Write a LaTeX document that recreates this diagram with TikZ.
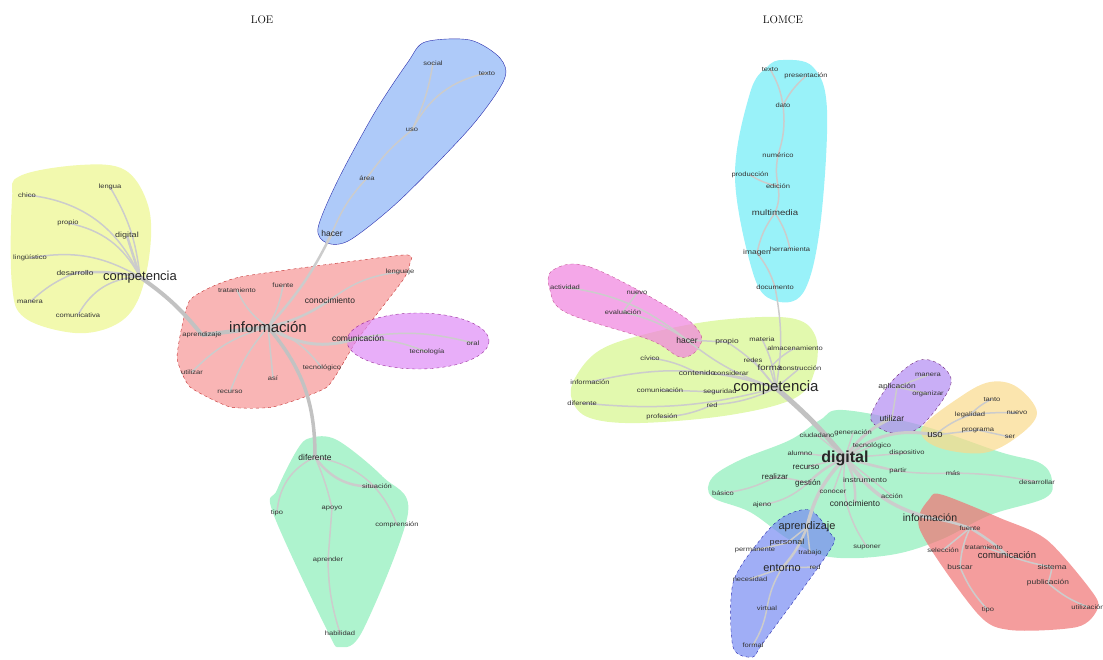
\documentclass[tikz,border=0pt]{standalone}
\usepackage{fontspec}
\setsansfont{Liberation Sans}
\pgfdeclarelayer{hulls}
\pgfdeclarelayer{links}
\pgfsetlayers{hulls,links,main}

\tikzset{
  w/.style={font=\sffamily\fontsize{6.3}{7}\selectfont,inner sep=0pt,text=black!80,xscale=1.2},
  wm/.style={font=\sffamily\fontsize{8.5}{9}\selectfont,inner sep=0pt,text=black!85},
  wl/.style={font=\sffamily\fontsize{10.5}{11}\selectfont,inner sep=0pt,text=black!85},
  wb/.style={font=\sffamily\fontsize{14}{15}\selectfont,inner sep=0pt,text=black!85},
  lk/.style={draw=black!20,line width=1.5pt},
  lkk/.style={draw=black!24,line width=4pt},
  hull/.style={fill opacity=\op,draw opacity=.8},
  title/.style={font=\fontsize{11}{12}\selectfont,inner sep=0pt}
}

\begin{document}
\begin{tikzpicture}[x=1pt,y=-1pt]

\def\op{.7}
\useasboundingbox (0,0) rectangle (1103,659);

\definecolor{yel}{RGB}{236,247,140}
\definecolor{rosa}{RGB}{246,150,150}
\definecolor{lila}{RGB}{222,140,246}
\definecolor{azul}{RGB}{140,180,246}
\definecolor{menta}{RGB}{140,238,185}
\definecolor{cian}{RGB}{110,236,246}
\definecolor{fucsia}{RGB}{240,130,222}
\definecolor{lima}{RGB}{214,246,140}
\definecolor{violeta}{RGB}{178,140,242}
\definecolor{naranja}{RGB}{250,218,140}
\definecolor{rojo}{RGB}{240,116,116}
\definecolor{indigo}{RGB}{120,140,242}

\node[title] (loe) at (262,20) {LOE};
\node[title] (lomce) at (783,20) {LOMCE};

%% hulls, left
\begin{pgfonlayer}{hulls}
\fill[hull,yel] plot[smooth cycle,tension=.6] coordinates {(20,176) (80,165) (125,170) (148,205) (150,250) (138,300) (115,325) (75,333) (25,318) (12,285) (12,200)};
\filldraw[hull,rosa,draw=red!70!black,dashed] plot[smooth cycle,tension=.3] coordinates {(190,300) (240,277) (403,255) (410,263) (403,280) (357,340) (327,387) (273,407) (230,407) (190,387) (177,357)};
\filldraw[hull,lila,draw=violet,dashed] (418,341) ellipse[x radius=71,y radius=28];
\filldraw[hull,azul,draw=blue!60!black] plot[smooth cycle,tension=.5] coordinates {(425,42) (470,40) (500,58) (504,80) (470,128) (400,200) (350,240) (327,243) (318,228) (338,180) (375,112) (408,62)};
\fill[hull,menta] plot[smooth cycle,tension=.55] coordinates {(310,438) (337,440) (383,477) (408,513) (363,630) (340,647) (327,630) (273,513) (277,490) (297,450)};

%% hulls, right
\fill[hull,cian] plot[smooth cycle,tension=.6] coordinates {(783,60) (813,67) (827,110) (820,227) (803,293) (773,300) (753,273) (735,177) (750,93) (767,67)};
\fill[hull,lima] plot[smooth cycle,tension=.6] coordinates {(575,378) (600,350) (650,333) (720,320) (790,318) (815,335) (815,370) (795,398) (730,415) (640,423) (590,418) (572,400)};
\filldraw[hull,fucsia,draw=magenta!70!black,dashed] plot[smooth cycle,tension=.6] coordinates {(553,270) (590,267) (673,310) (700,333) (697,350) (680,357) (650,340) (567,313) (550,290)};
\fill[hull,menta] plot[smooth cycle,tension=.6] coordinates {(843,410) (920,425) (1000,452) (1040,463) (1052,480) (1045,498) (990,515) (940,540) (890,555) (830,557) (790,540) (750,512) (712,497) (712,478) (740,460) (790,440) (820,420)};
\filldraw[hull,violeta,draw=violet!70!black,dashed] plot[smooth cycle,tension=.6] coordinates {(920,360) (943,367) (950,387) (920,427) (893,433) (873,423) (873,410) (893,380)};
\fill[hull,naranja] plot[smooth cycle,tension=.6] coordinates {(922,428) (960,397) (990,382) (1017,387) (1037,413) (1017,437) (983,453) (937,447)};
\fill[hull,rojo] plot[smooth cycle,tension=.5] coordinates {(930,498) (943,495) (1000,518) (1047,540) (1093,593) (1097,610) (1077,627) (1010,630) (977,613) (920,530)};
\filldraw[hull,indigo,draw=blue!60!black,dashed] plot[smooth cycle,tension=.5] coordinates {(810,510) (830,533) (830,550) (763,643) (753,657) (733,647) (733,583) (760,540) (783,517)};
\end{pgfonlayer}

%% words, left
\node[w] (chico) at (27,195) {chico};
\node[w] (lengua) at (110,187) {lengua};
\node[w] (propioL) at (68,223) {propio};
\node[w,font=\sffamily\fontsize{7.5}{8}\selectfont] (digitalL) at (127,236) {digital};
\node[w] (lingL) at (30,258) {lingüístico};
\node[w,font=\sffamily\fontsize{7}{8}\selectfont] (desarrollo) at (75,273) {desarrollo};
\node[wb,font=\sffamily\fontsize{13}{14}\selectfont] (compL) at (140,277) {competencia};
\node[w] (manera) at (30,302) {manera};
\node[w] (comunicativa) at (78,315) {comunicativa};

\node[w] (tratL) at (237,290) {tratamiento};
\node[w] (fuenteL) at (283,285) {fuente};
\node[wm] (conocL) at (330,300) {conocimiento};
\node[w] (lenguaje) at (400,272) {lenguaje};
\node[wb,font=\sffamily\fontsize{15}{16}\selectfont] (infoL) at (268,327) {información};
\node[w] (aprendL) at (202,335) {aprendizaje};
\node[wm] (comuL) at (358,338) {comunicación};
\node[w] (utilizarL) at (192,372) {utilizar};
\node[w] (recursoL) at (230,392) {recurso};
\node[w] (asi) at (273,378) {así};
\node[w] (tecnoL) at (322,368) {tecnológico};
\node[w] (tecnoP) at (427,352) {tecnología};
\node[w] (oral) at (473,343) {oral};

\node[w] (social) at (433,63) {social};
\node[w] (textoL) at (487,73) {texto};
\node[w] (usoL) at (412,130) {uso};
\node[w] (area) at (367,178) {área};
\node[wm] (hacerL) at (332,233) {hacer};

\node[wm] (diferente) at (315,457) {diferente};
\node[w] (situacion) at (377,486) {situación};
\node[w] (tipoL) at (277,513) {tipo};
\node[w] (apoyo) at (332,508) {apoyo};
\node[w] (comprension) at (397,525) {comprensión};
\node[w] (aprender) at (328,560) {aprender};
\node[w] (habilidad) at (340,633) {habilidad};

%% words, right
\node[w] (textoR) at (770,69) {texto};
\node[w] (presentacion) at (806,76) {presentación};
\node[w] (dato) at (783,105) {dato};
\node[w] (numerico) at (778,155) {numérico};
\node[w] (produccion) at (750,175) {producción};
\node[w] (edicion) at (778,186) {edición};
\node[w,font=\sffamily\fontsize{8}{9}\selectfont] (multimedia) at (775,213) {multimedia};
\node[w,font=\sffamily\fontsize{7}{8}\selectfont] (imagen) at (757,253) {imagen};
\node[w] (herramienta) at (790,249) {herramienta};
\node[w] (documento) at (775,287) {documento};

\node[w] (actividad) at (565,287) {actividad};
\node[w] (nuevoA) at (637,293) {nuevo};
\node[w] (evaluacion) at (623,312) {evaluación};
\node[wm] (hacerR) at (687,340) {hacer};

\node[w,font=\sffamily\fontsize{7}{8}\selectfont] (propioR) at (727,342) {propio};
\node[w] (materia) at (762,339) {materia};
\node[w] (almacen) at (795,348) {almacenamiento};
\node[w] (civico) at (650,358) {cívico};
\node[w] (redes) at (753,360) {redes};
\node[w,font=\sffamily\fontsize{8}{9}\selectfont] (forma) at (770,368) {forma};
\node[w] (construccion) at (800,368) {construcción};
\node[w,font=\sffamily\fontsize{7}{8}\selectfont] (contenido) at (697,373) {contenido};
\node[w] (considerar) at (731,373) {considerar};
\node[w] (infoY) at (590,382) {información};
\node[w] (diferenteR) at (582,403) {diferente};
\node[w] (comuY) at (660,390) {comunicación};
\node[w] (seguridad) at (720,392) {seguridad};
\node[wb,font=\sffamily\fontsize{15}{16}\selectfont] (compR) at (776,388) {competencia};
\node[w] (red) at (712,405) {red};
\node[w] (profesion) at (662,417) {profesión};

\node[w] (maneraR) at (928,375) {manera};
\node[w,font=\sffamily\fontsize{7}{8}\selectfont] (aplicacion) at (897,387) {aplicación};
\node[w] (organizar) at (928,394) {organizar};
\node[wm] (utilizarR) at (892,418) {utilizar};

\node[w] (tanto) at (992,399) {tanto};
\node[w] (nuevoB) at (1017,413) {nuevo};
\node[w] (legalidad) at (970,415) {legalidad};
\node[w] (programa) at (978,430) {programa};
\node[wm,font=\sffamily\fontsize{9.5}{10}\selectfont] (usoR) at (935,435) {uso};
\node[w] (ser) at (1010,437) {ser};

\node[w] (ciudadano) at (817,435) {ciudadano};
\node[w] (generacion) at (853,433) {generación};
\node[w] (alumno) at (800,453) {alumno};
\node[wb,font=\sffamily\bfseries\fontsize{16}{17}\selectfont] (digitalR) at (845,458) {digital};
\node[w] (tecnologico) at (872,446) {tecnológico};
\node[w] (dispositivo) at (907,453) {dispositivo};
\node[wm,font=\sffamily\fontsize{8}{9}\selectfont] (recursoR) at (806,467) {recurso};
\node[wm,font=\sffamily\fontsize{8}{9}\selectfont] (realizar) at (775,477) {realizar};
\node[wm,font=\sffamily\fontsize{8}{9}\selectfont] (gestion) at (808,483) {gestión};
\node[w,font=\sffamily\fontsize{7}{8}\selectfont] (instrumento) at (865,480) {instrumento};
\node[w] (partir) at (898,471) {partir};
\node[w] (conocer) at (833,492) {conocer};
\node[wm] (conocR) at (855,503) {conocimiento};
\node[w] (accion) at (892,496) {acción};
\node[w] (basico) at (723,493) {básico};
\node[w] (ajeno) at (762,505) {ajeno};
\node[w] (mas) at (953,473) {más};
\node[w] (desarrollar) at (1037,482) {desarrollar};
\node[wl] (infoR) at (930,518) {información};
\node[w] (suponer) at (867,547) {suponer};

\node[w] (fuenteR) at (970,528) {fuente};
\node[w] (seleccion) at (943,550) {selección};
\node[w] (tratR) at (984,547) {tratamiento};
\node[wm,font=\sffamily\fontsize{9.5}{10}\selectfont] (comuR) at (1007,555) {comunicación};
\node[w,font=\sffamily\fontsize{7}{8}\selectfont] (buscar) at (960,567) {buscar};
\node[w,font=\sffamily\fontsize{7}{8}\selectfont] (sistema) at (1052,567) {sistema};
\node[w,font=\sffamily\fontsize{7}{8}\selectfont] (publicacion) at (1048,583) {publicación};
\node[w] (tipoR) at (988,610) {tipo};
\node[w] (utilizacion) at (1088,607) {utilización};

\node[wl,font=\sffamily\fontsize{11}{12}\selectfont] (aprendR) at (807,527) {aprendizaje};
\node[w,font=\sffamily\fontsize{7.5}{8}\selectfont] (personal) at (787,543) {personal};
\node[w] (permanente) at (755,550) {permanente};
\node[w] (trabajo) at (810,553) {trabajo};
\node[wl,font=\sffamily\fontsize{11}{12}\selectfont] (entorno) at (782,568) {entorno};
\node[w] (redB) at (815,567) {red};
\node[w] (necesidad) at (750,579) {necesidad};
\node[w] (virtual) at (767,608) {virtual};
\node[w] (formal) at (753,645) {formal};

%% links
\begin{pgfonlayer}{links}
\draw[lk] (compL.center) to[bend right=30] (chico.center);
\draw[lk] (compL.center) to[bend right=12] (lengua.center);
\draw[lk] (compL.center) to[bend right=25] (propioL.center);
\draw[lk,line width=2.5pt] (compL.center) -- (digitalL.center);
\draw[lk] (compL.center) to[bend right=20] (lingL.center);
\draw[lk,line width=2.5pt] (compL.center) to[bend right=8] (desarrollo.center);
\draw[lk] (desarrollo.center) to[bend right=10] (manera.center);
\draw[lk] (compL.center) to[bend right=30] (comunicativa.center);
\draw[lkk] (compL.center) to[bend left=8] (aprendL.center);
\draw[lkk] (aprendL.center) -- (infoL.center);

\draw[lk] (infoL.center) to[bend left=15] (tratL.center);
\draw[lk] (infoL.center) to[bend right=10] (fuenteL.center);
\draw[lk,line width=2.5pt] (infoL.center) to[bend right=10] (conocL.center);
\draw[lk] (conocL.center) to[bend left=15] (lenguaje.center);
\draw[lk,line width=3pt] (infoL.center) to[bend right=25] (comuL.center);
\draw[lk] (comuL.center) to[bend left=10] (tecnoP.center);
\draw[lk] (comuL.center) to[bend left=12] (oral.center);
\draw[lk] (infoL.center) to[bend right=15] (utilizarL.center);
\draw[lk] (infoL.center) to[bend right=10] (recursoL.center);
\draw[lk] (infoL.center) -- (asi.center);
\draw[lk] (infoL.center) to[bend left=15] (tecnoL.center);
\draw[lk,line width=2.5pt] (infoL.center) to[bend right=8] (hacerL.center);
\draw[lk] (hacerL.center) to[bend left=10] (area.center);
\draw[lk] (area.center) to[bend left=8] (usoL.center);
\draw[lk] (usoL.center) to[bend right=8] (social.center);
\draw[lk] (usoL.center) to[bend left=25] (textoL.center);
\draw[lkk,line width=3.5pt] (infoL.center) to[bend left=20] (diferente.center);
\draw[lk] (diferente.center) to[bend right=30] (tipoL.center);
\draw[lk,line width=2.5pt] (diferente.center) to[bend right=30] (situacion.center);
\draw[lk] (diferente.center) to[bend left=5] (apoyo.center);
\draw[lk] (apoyo.center) -- (aprender.center);
\draw[lk] (aprender.center) to[bend right=8] (habilidad.center);
\draw[lk] (diferente.center) to[bend left=30] (comprension.center);

\draw[lk] (textoR.center) to[bend left=10] (dato.center);
\draw[lk] (presentacion.center) to[bend right=10] (dato.center);
\draw[lk] (dato.center) to[bend left=12] (numerico.center);
\draw[lk] (numerico.center) to[bend right=10] (edicion.center);
\draw[lk] (produccion.center) to[bend right=10] (edicion.center);
\draw[lk] (edicion.center) to[bend left=15] (multimedia.center);
\draw[lk] (multimedia.center) to[bend right=12] (imagen.center);
\draw[lk] (multimedia.center) to[bend left=10] (herramienta.center);
\draw[lk] (imagen.center) to[bend left=10] (documento.center);
\draw[lk] (documento.center) to[bend left=10] (compR.center);

\draw[lk] (actividad.center) to[bend left=15] (hacerR.center);
\draw[lk] (evaluacion.center) to[bend left=10] (hacerR.center);
\draw[lk] (nuevoA.center) -- (evaluacion.center);
\draw[lk] (hacerR.center) -- (propioR.center);
\draw[lk] (propioR.center) to[bend left=10] (compR.center);
\draw[lk] (materia.center) to[bend left=10] (compR.center);
\draw[lk] (almacen.center) to[bend right=10] (forma.center);
\draw[lk] (redes.center) -- (compR.center);
\draw[lk] (forma.center) -- (compR.center);
\draw[lk] (construccion.center) -- (compR.center);
\draw[lk] (contenido.center) to[bend left=10] (compR.center);
\draw[lk] (civico.center) to[bend left=10] (contenido.center);
\draw[lk] (hacerR.center) to[bend right=10] (compR.center);
\draw[lk] (infoY.center) to[bend left=15] (compR.center);
\draw[lk] (diferenteR.center) to[bend right=10] (compR.center);
\draw[lk] (comuY.center) -- (seguridad.center);
\draw[lk] (red.center) to[bend right=10] (compR.center);
\draw[lk] (profesion.center) to[bend right=10] (red.center);
\draw[lkk,line width=5pt] (compR.center) to[bend left=5] (digitalR.center);

\foreach \t in {ciudadano,generacion,alumno,recursoR,tecnologico,dispositivo,instrumento,partir,conocer,accion}
  \draw[lk] (digitalR.center) -- (\t.center);
\draw[lk,line width=2.5pt] (digitalR.center) to[bend right=10] (gestion.center);
\draw[lk] (gestion.center) to[bend right=5] (realizar.center);
\draw[lk] (realizar.center) to[bend left=10] (basico.center);
\draw[lk] (gestion.center) to[bend left=15] (ajeno.center);
\draw[lk,line width=2.5pt] (digitalR.center) to[bend left=15] (conocR.center);
\draw[lk] (digitalR.center) to[bend right=10] (mas.center);
\draw[lk] (mas.center) to[bend left=5] (desarrollar.center);
\draw[lk] (digitalR.center) to[bend right=20] (suponer.center);
\draw[lk,line width=3pt] (digitalR.center) to[bend left=15] (utilizarR.center);
\draw[lk] (utilizarR.center) -- (aplicacion.center);
\draw[lk] (aplicacion.center) -- (maneraR.center);
\draw[lk] (aplicacion.center) -- (organizar.center);
\draw[lk,line width=3pt] (digitalR.center) to[bend left=25] (usoR.center);
\draw[lk] (usoR.center) to[bend left=10] (legalidad.center);
\draw[lk] (legalidad.center) to[bend left=10] (tanto.center);
\draw[lk] (legalidad.center) to[bend left=5] (nuevoB.center);
\draw[lk] (usoR.center) -- (programa.center);
\draw[lk] (programa.center) -- (ser.center);
\draw[lk,line width=3.5pt] (digitalR.center) to[bend right=20] (infoR.center);
\draw[lk,line width=2.5pt] (infoR.center) to[bend left=5] (fuenteR.center);
\draw[lk,line width=2.5pt] (fuenteR.center) to[bend left=5] (comuR.center);
\draw[lk] (comuR.center) to[bend right=5] (sistema.center);
\draw[lk] (sistema.center) to[bend left=5] (publicacion.center);
\draw[lk] (publicacion.center) to[bend right=10] (utilizacion.center);
\draw[lk] (fuenteR.center) -- (seleccion.center);
\draw[lk] (fuenteR.center) to[bend right=10] (buscar.center);
\draw[lk] (comuR.center) -- (tratR.center);
\draw[lk] (buscar.center) to[bend right=10] (tipoR.center);
\draw[lk,line width=3.5pt] (digitalR.center) to[bend right=15] (aprendR.center);
\draw[lk] (aprendR.center) -- (personal.center);
\draw[lk] (personal.center) -- (permanente.center);
\draw[lk] (aprendR.center) -- (trabajo.center);
\draw[lk,line width=2.5pt] (aprendR.center) to[bend left=10] (entorno.center);
\draw[lk] (entorno.center) -- (necesidad.center);
\draw[lk] (entorno.center) -- (redB.center);
\draw[lk] (entorno.center) to[bend right=10] (virtual.center);
\draw[lk] (virtual.center) to[bend left=10] (formal.center);
\end{pgfonlayer}

\end{tikzpicture}
\end{document}
